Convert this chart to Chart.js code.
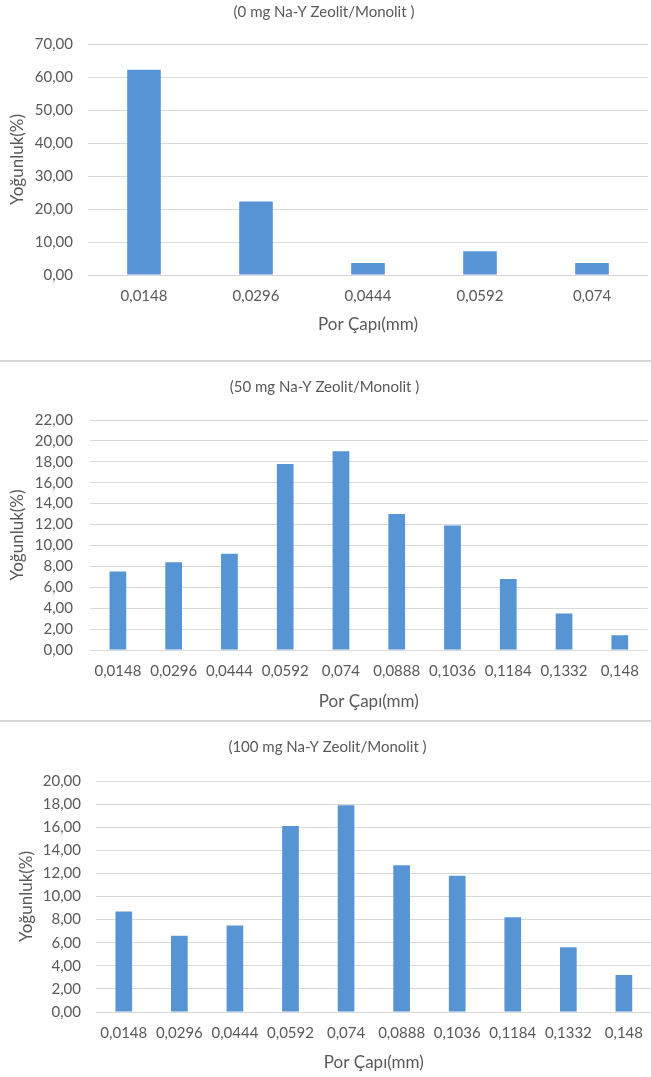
<!DOCTYPE html>
<html lang="tr">
<head>
<meta charset="utf-8">
<title>Por Çapı Dağılımı</title>
<script src="https://cdn.jsdelivr.net/npm/chart.js@4/dist/chart.umd.min.js"></script>
<style>
  html, body { margin: 0; padding: 0; background: #fff; }
  body { width: 651px; height: 1077px; position: relative; overflow: hidden; }
  .panel { position: absolute; left: 0; }
  .divider { position: absolute; left: 0; width: 651px; height: 2px; background: #d9d9d9; }
</style>
</head>
<body>
<div class="panel" id="panel0" style="top:0; width:651px; height:360px;"><canvas id="chart-0mg"></canvas></div>
<div class="divider" style="top:360px;"></div>
<div class="panel" id="panel50" style="top:362px; width:651px; height:358px;"><canvas id="chart-50mg"></canvas></div>
<div class="divider" style="top:720px;"></div>
<div class="panel" id="panel100" style="top:723px; width:655px; height:354px;"><canvas id="chart-100mg"></canvas></div>

<script>
  'use strict';

  // Pore diameter classes (mm)
  const poreLabels5 = ['0,0148', '0,0296', '0,0444', '0,0592', '0,074'];
  const poreLabels10 = ['0,0148', '0,0296', '0,0444', '0,0592', '0,074',
                        '0,0888', '0,1036', '0,1184', '0,1332', '0,148'];

  // Density (%) per pore class
  const density0mg = [62.2, 22.3, 3.6, 7.2, 3.6];
  const density50mg = [7.5, 8.4, 9.2, 17.8, 19.0, 13.0, 11.9, 6.8, 3.5, 1.4];
  const density100mg = [8.7, 6.6, 7.5, 16.1, 17.9, 12.7, 11.8, 8.2, 5.6, 3.2];

  const titles = [
    '(0 mg Na-Y Zeolit/Monolit )',
    '(50 mg Na-Y Zeolit/Monolit )',
    '(100 mg Na-Y Zeolit/Monolit )'
  ];

  const FONT = 'Lato, "Open Sans", sans-serif';
  const TEXT = '#595959';
  const GRID = '#d9d9d9';
  const BAR = '#5694d3';

  function commaFixed(v) {
    return Number(v).toFixed(2).replace('.', ',');
  }

  // geo: fixed plot-area geometry so all three panels line up the same way
  function drawPanel(canvasId, labels, values, title, yMax, yStep, geo) {
    const ctx = document.getElementById(canvasId).getContext('2d');

    return new Chart(ctx, {
      type: 'bar',
      data: {
        labels: labels,
        datasets: [{
          data: values,
          backgroundColor: BAR,
          borderWidth: 0,
          barPercentage: 0.3,
          categoryPercentage: 1
        }]
      },
      options: {
        responsive: true,
        maintainAspectRatio: false,
        animation: false,
        layout: { padding: { left: 0, right: geo.padRight, top: 0, bottom: 0 } },
        plugins: {
          legend: { display: false },
          tooltip: { enabled: false },
          title: {
            display: true,
            text: title,
            color: TEXT,
            font: { family: FONT, size: 15, weight: 'normal', lineHeight: 1.2 },
            padding: { top: geo.titleTop, bottom: geo.titleBottom }
          }
        },
        scales: {
          x: {
            grid: { display: false, drawTicks: false },
            border: { display: false },
            ticks: {
              color: TEXT,
              padding: geo.xTickPad,
              maxRotation: 0,
              autoSkip: false,
              font: { family: FONT, size: 15 }
            },
            title: {
              display: true,
              text: 'Por Çapı(mm)',
              color: TEXT,
              font: { family: FONT, size: 17, lineHeight: 1.2 },
              padding: { top: 0, bottom: geo.xTitleBottom }
            },
            afterFit: function (scale) { scale.height = geo.xHeight; }
          },
          y: {
            min: 0,
            max: yMax,
            grid: { color: GRID, lineWidth: 1, drawTicks: false },
            border: { display: false },
            ticks: {
              stepSize: yStep,
              autoSkip: false,
              color: TEXT,
              padding: geo.yTickPad,
              font: { family: FONT, size: 15 },
              callback: function (value) { return commaFixed(value); }
            },
            title: {
              display: true,
              text: 'Yoğunluk(%)',
              color: TEXT,
              font: { family: FONT, size: 17, lineHeight: 1.2 },
              padding: { top: geo.yTitleLeft, bottom: 0 }
            },
            afterFit: function (scale) { scale.width = geo.yWidth; }
          }
        }
      }
    });
  }

  drawPanel('chart-0mg', poreLabels5, density0mg, titles[0], 70, 10, {
    padRight: 3, titleTop: 3, titleBottom: 23,
    xHeight: 85, xTickPad: 12, xTitleBottom: 25,
    yWidth: 88, yTickPad: 15, yTitleLeft: 7
  });

  drawPanel('chart-50mg', poreLabels10, density50mg, titles[1], 22, 2, {
    padRight: 2, titleTop: 16, titleBottom: 24,
    xHeight: 70, xTickPad: 12, xTitleBottom: 8,
    yWidth: 90, yTickPad: 17, yTitleLeft: 7
  });

  drawPanel('chart-100mg', poreLabels10, density100mg, titles[2], 20, 2, {
    padRight: 0, titleTop: 15, titleBottom: 25,
    xHeight: 65, xTickPad: 12, xTitleBottom: 4,
    yWidth: 96, yTickPad: 15, yTitleLeft: 16
  });
</script>
</body>
</html>
